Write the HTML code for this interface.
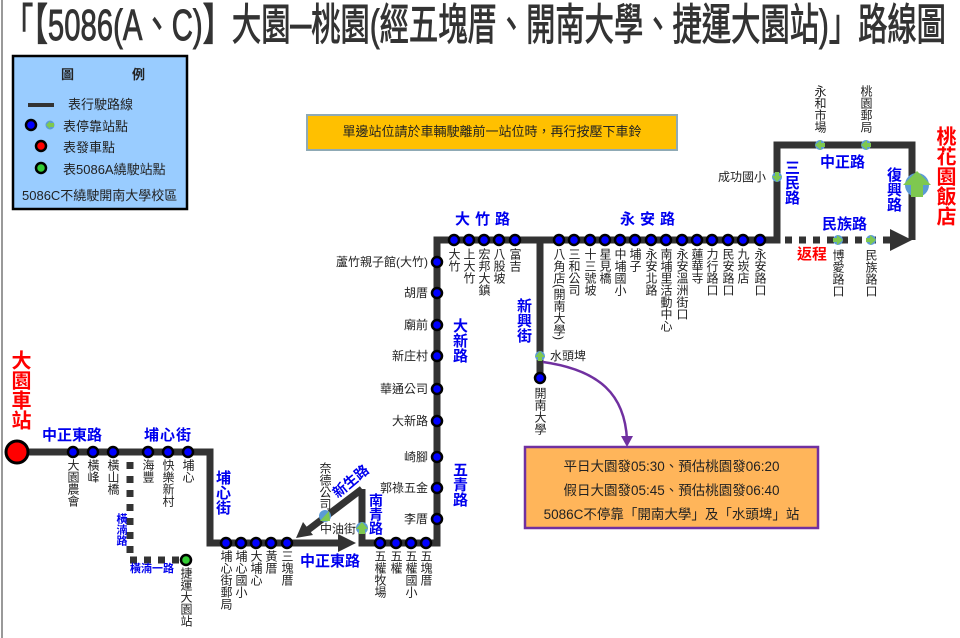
<!DOCTYPE html>
<html><head><meta charset="utf-8">
<style>
body{margin:0;background:#fff;}
#w{position:relative;width:960px;height:638px;overflow:hidden;font-family:"Liberation Sans","Noto Sans CJK TC",sans-serif;color:#222;}
svg{position:absolute;left:0;top:0;}
.v{position:absolute;writing-mode:vertical-rl;font-size:12px;line-height:12px;width:12px;white-space:nowrap;}
.h{position:absolute;font-size:12px;line-height:14px;white-space:nowrap;}
.r{position:absolute;font-size:12px;line-height:14px;white-space:nowrap;text-align:right;width:120px;}
.b{position:absolute;color:#0000ee;font-weight:bold;font-size:15px;line-height:17px;white-space:nowrap;}
.bv{position:absolute;color:#0000ee;font-weight:bold;font-size:15px;line-height:16px;writing-mode:vertical-rl;width:16px;}
.red{position:absolute;color:#ff0000;font-weight:bold;font-size:20px;line-height:21px;writing-mode:vertical-rl;width:22px;}
.lg{font-size:13px;}
</style></head><body><div id="w">
<svg width="960" height="638" viewBox="0 0 960 638">
<line x1="2" y1="0" x2="2" y2="638" stroke="#999" stroke-width="2"/>
<text x="4" y="40" font-size="38" fill="#333" stroke="#333" stroke-width="0.8" font-family="Liberation Sans,Noto Sans CJK TC,sans-serif" textLength="942" lengthAdjust="spacingAndGlyphs" transform="translate(0,-6) scale(1,1.15)">「【5086(A、C)】大園─桃園(經五塊厝、開南大學、捷運大園站)」路線圖</text>
<rect x="13" y="56" width="174" height="153" fill="#99ccff" stroke="#000" stroke-width="2.5"/>
<rect x="28" y="103" width="26" height="4" fill="#333"/>
<circle cx="31" cy="125" r="5" fill="#0000ff" stroke="#000" stroke-width="2.5"/>
<circle cx="50" cy="125" r="4.5" fill="#5b9bd5"/><polygon points="46,125 50,121 50,123 54,123 54,127 50,127 50,129" fill="#7ec850"/>
<circle cx="41" cy="146" r="5" fill="#ff0000" stroke="#000" stroke-width="2.5"/>
<circle cx="41" cy="168" r="5" fill="#33cc33" stroke="#000" stroke-width="2.5"/>
<rect x="307" y="115" width="370" height="35" fill="#ffc000" stroke="#8faab5" stroke-width="2"/>
<g fill="none" stroke="#333" stroke-width="7" stroke-linejoin="miter">
<polyline points="17,452 210,452 210,543 290,543"/>
<line x1="290" y1="543" x2="340" y2="543"/>
<polyline points="362,489 362,543 437,543 437,240 777,240 777,145 912,145 912,240"/>
<line x1="362" y1="489" x2="308" y2="530"/>
<line x1="540" y1="240" x2="540" y2="378"/>
</g>
<polygon points="338,534 356,543 338,552" fill="#333"/>
<polygon points="296,538 303,522 313,535" fill="#333"/>
<g stroke="#333" stroke-width="7" stroke-dasharray="7,7"><line x1="785" y1="240" x2="890" y2="240"/></g>
<polygon points="890,229 912,240 890,251" fill="#333"/>
<g stroke="#333" stroke-width="7" stroke-dasharray="7,7"><line x1="130" y1="462" x2="130" y2="560"/><line x1="130" y1="560" x2="180" y2="560"/></g>
<circle cx="17" cy="452" r="11" fill="#ff0000" stroke="#000" stroke-width="3"/>
<circle cx="186" cy="560" r="5" fill="#33cc33" stroke="#000" stroke-width="2.5"/>
<g fill="#0000ff" stroke="#000" stroke-width="2.5">
<circle cx="73" cy="452" r="5"/><circle cx="93" cy="452" r="5"/><circle cx="113" cy="452" r="5"/>
<circle cx="148" cy="452" r="5"/><circle cx="168" cy="452" r="5"/><circle cx="188" cy="452" r="5"/>
<circle cx="226" cy="543" r="5"/><circle cx="241" cy="543" r="5"/><circle cx="256" cy="543" r="5"/><circle cx="271" cy="543" r="5"/><circle cx="287" cy="543" r="5"/>
<circle cx="380" cy="543" r="5"/><circle cx="396" cy="543" r="5"/><circle cx="411" cy="543" r="5"/><circle cx="426" cy="543" r="5"/>
<circle cx="437" cy="262" r="5"/><circle cx="437" cy="293" r="5"/><circle cx="437" cy="325" r="5"/><circle cx="437" cy="356" r="5"/><circle cx="437" cy="389" r="5"/><circle cx="437" cy="421" r="5"/><circle cx="437" cy="457" r="5"/><circle cx="437" cy="488" r="5"/><circle cx="437" cy="519" r="5"/>
<circle cx="454" cy="240" r="5"/><circle cx="469" cy="240" r="5"/><circle cx="484" cy="240" r="5"/><circle cx="499" cy="240" r="5"/><circle cx="515" cy="240" r="5"/>
<circle cx="559" cy="240" r="5"/><circle cx="574" cy="240" r="5"/><circle cx="590" cy="240" r="5"/><circle cx="605" cy="240" r="5"/><circle cx="620" cy="240" r="5"/><circle cx="635" cy="240" r="5"/><circle cx="651" cy="240" r="5"/><circle cx="666" cy="240" r="5"/><circle cx="682" cy="240" r="5"/><circle cx="697" cy="240" r="5"/><circle cx="712" cy="240" r="5"/><circle cx="728" cy="240" r="5"/><circle cx="743" cy="240" r="5"/><circle cx="760" cy="240" r="5"/>
<circle cx="540" cy="378" r="5"/>
</g>
<g fill="#5b9bd5">
<circle cx="325" cy="516" r="6"/><circle cx="362" cy="528" r="6"/><circle cx="540" cy="356" r="5"/>
<circle cx="777" cy="177" r="5"/><circle cx="820" cy="145" r="5"/><circle cx="866" cy="145" r="5"/>
<circle cx="838" cy="240" r="5"/><circle cx="871" cy="240" r="5"/><circle cx="917" cy="185" r="12"/>
</g>
<g fill="#7ec850">
<polygon points="329,511 330,521 320,521"/>
<polygon points="362,522 368,529 365,529 365,534 359,534 359,529 356,529"/>
<polygon points="540,351 545,357 542,357 542,361 538,361 538,357 535,357"/>
<polygon points="777,182 782,176 779,176 779,172 775,172 775,176 772,176"/>
<polygon points="815,145 821,140 821,143 825,143 825,147 821,147 821,150"/>
<polygon points="861,145 867,140 867,143 871,143 871,147 867,147 867,150"/>
<polygon points="843,240 837,235 837,238 833,238 833,242 837,242 837,245"/>
<polygon points="876,240 870,235 870,238 866,238 866,242 870,242 870,245"/>
<polygon points="917,171 931,185 923,185 923,197 911,197 911,185 903,185"/>
</g>
<path d="M543,362 C600,370 625,395 627,440" fill="none" stroke="#7030a0" stroke-width="2.5"/>
<polygon points="621,436 627,447 633,436" fill="#7030a0"/>
<rect x="525" y="447" width="293" height="81" fill="#ffb55a" stroke="#7030a0" stroke-width="2.5"/>
</svg>

<div class="h lg" style="left:61px;top:68px;font-weight:bold;">圖</div>
<div class="h lg" style="left:132px;top:68px;font-weight:bold;">例</div>
<div class="h lg" style="left:68px;top:98px;">表行駛路線</div>
<div class="h lg" style="left:63px;top:120px;">表停靠站點</div>
<div class="h lg" style="left:63px;top:141px;">表發車點</div>
<div class="h lg" style="left:63px;top:163px;">表5086A繞駛站點</div>
<div class="h lg" style="left:22px;top:189px;">5086C不繞駛開南大學校區</div>
<div class="h" style="left:307px;top:125px;width:370px;text-align:center;font-size:13px;">單邊站位請於車輛駛離前一站位時，再行按壓下車鈴</div>
<div class="h" style="left:525px;top:455px;width:293px;text-align:center;font-size:13.5px;line-height:24px;">平日大園發05:30、預估桃園發06:20<br>假日大園發05:45、預估桃園發06:40<br>5086C不停靠「開南大學」及「水頭埤」站</div>

<div class="red" style="left:7px;top:350px;">大園車站</div>
<div class="red" style="left:932px;top:126px;">桃花園飯店</div>

<div class="b" style="left:42px;top:427px;">中正東路</div>
<div class="b" style="left:144px;top:427px;letter-spacing:1px;">埔心街</div>
<div class="bv" style="left:214px;top:470px;">埔心街</div>
<div class="b" style="left:300px;top:553px;">中正東路</div>
<div class="b" style="left:330px;top:473px;transform:rotate(-40deg);font-size:14px;">新生路</div>
<div class="bv" style="left:367px;top:493px;font-size:14px;line-height:15px;">南青路</div>
<div class="bv" style="left:451px;top:462px;">五青路</div>
<div class="bv" style="left:451px;top:318px;">大新路</div>
<div class="b" style="left:455px;top:211px;letter-spacing:5px;">大竹路</div>
<div class="b" style="left:620px;top:211px;letter-spacing:5px;">永安路</div>
<div class="bv" style="left:515px;top:298px;">新興街</div>
<div class="bv" style="left:783px;top:160px;">三民路</div>
<div class="b" style="left:820px;top:154px;">中正路</div>
<div class="bv" style="left:885px;top:167px;">復興路</div>
<div class="b" style="left:822px;top:216px;">民族路</div>
<div class="b" style="left:797px;top:246px;color:#ff0000;">返程</div>
<div class="bv" style="left:115px;top:513px;font-size:11px;line-height:12px;width:12px;">橫湳路</div>
<div class="b" style="left:130px;top:563px;font-size:11px;line-height:12px;">橫湳一路</div>

<div class="v" style="left:67px;top:459px;">大園農會</div>
<div class="v" style="left:87px;top:459px;">橫峰</div>
<div class="v" style="left:107px;top:459px;">橫山橋</div>
<div class="v" style="left:142px;top:459px;">海豐</div>
<div class="v" style="left:162px;top:459px;">快樂新村</div>
<div class="v" style="left:182px;top:459px;">埔心</div>
<div class="v" style="left:180px;top:567px;">捷運大園站</div>
<div class="v" style="left:220px;top:550px;">埔心街郵局</div>
<div class="v" style="left:235px;top:550px;">埔心國小</div>
<div class="v" style="left:250px;top:550px;">大埔心</div>
<div class="v" style="left:265px;top:550px;">黃厝</div>
<div class="v" style="left:281px;top:550px;">三塊厝</div>
<div class="v" style="left:374px;top:550px;">五權牧場</div>
<div class="v" style="left:390px;top:550px;">五權</div>
<div class="v" style="left:405px;top:550px;">五權國小</div>
<div class="v" style="left:420px;top:550px;">五塊厝</div>
<div class="v" style="left:319px;top:462px;">奈德公司</div>
<div class="h" style="left:320px;top:522px;">中油街</div>

<div class="r" style="left:308px;top:255px;">蘆竹親子館(大竹)</div>
<div class="r" style="left:308px;top:286px;">胡厝</div>
<div class="r" style="left:308px;top:318px;">廟前</div>
<div class="r" style="left:308px;top:349px;">新庄村</div>
<div class="r" style="left:308px;top:382px;">華通公司</div>
<div class="r" style="left:308px;top:414px;">大新路</div>
<div class="r" style="left:308px;top:450px;">崎腳</div>
<div class="r" style="left:308px;top:481px;">郭祿五金</div>
<div class="r" style="left:308px;top:512px;">李厝</div>

<div class="v" style="left:448px;top:248px;">大竹</div>
<div class="v" style="left:463px;top:248px;">上大竹</div>
<div class="v" style="left:478px;top:248px;">宏邦大鎮</div>
<div class="v" style="left:493px;top:248px;">八股坡</div>
<div class="v" style="left:509px;top:248px;">富吉</div>
<div class="v" style="left:553px;top:248px;">八角店(開南大學)</div>
<div class="v" style="left:568px;top:248px;">三和公司</div>
<div class="v" style="left:584px;top:248px;">十三號坡</div>
<div class="v" style="left:599px;top:248px;">星見橋</div>
<div class="v" style="left:614px;top:248px;">中埔國小</div>
<div class="v" style="left:629px;top:248px;">埔子</div>
<div class="v" style="left:645px;top:248px;">永安北路</div>
<div class="v" style="left:660px;top:248px;">南埔里活動中心</div>
<div class="v" style="left:676px;top:248px;">永安溫洲街口</div>
<div class="v" style="left:691px;top:248px;">蓮華寺</div>
<div class="v" style="left:706px;top:248px;">力行路口</div>
<div class="v" style="left:722px;top:248px;">民安路口</div>
<div class="v" style="left:737px;top:248px;">九崁店</div>
<div class="v" style="left:754px;top:248px;">永安路口</div>
<div class="h" style="left:550px;top:349px;">水頭埤</div>
<div class="v" style="left:534px;top:387px;">開南大學</div>
<div class="r" style="left:646px;top:170px;">成功國小</div>
<div class="v" style="left:814px;top:85px;">永和市場</div>
<div class="v" style="left:860px;top:85px;">桃園郵局</div>
<div class="v" style="left:832px;top:249px;">博愛路口</div>
<div class="v" style="left:865px;top:249px;">民族路口</div>
</div></body></html>
